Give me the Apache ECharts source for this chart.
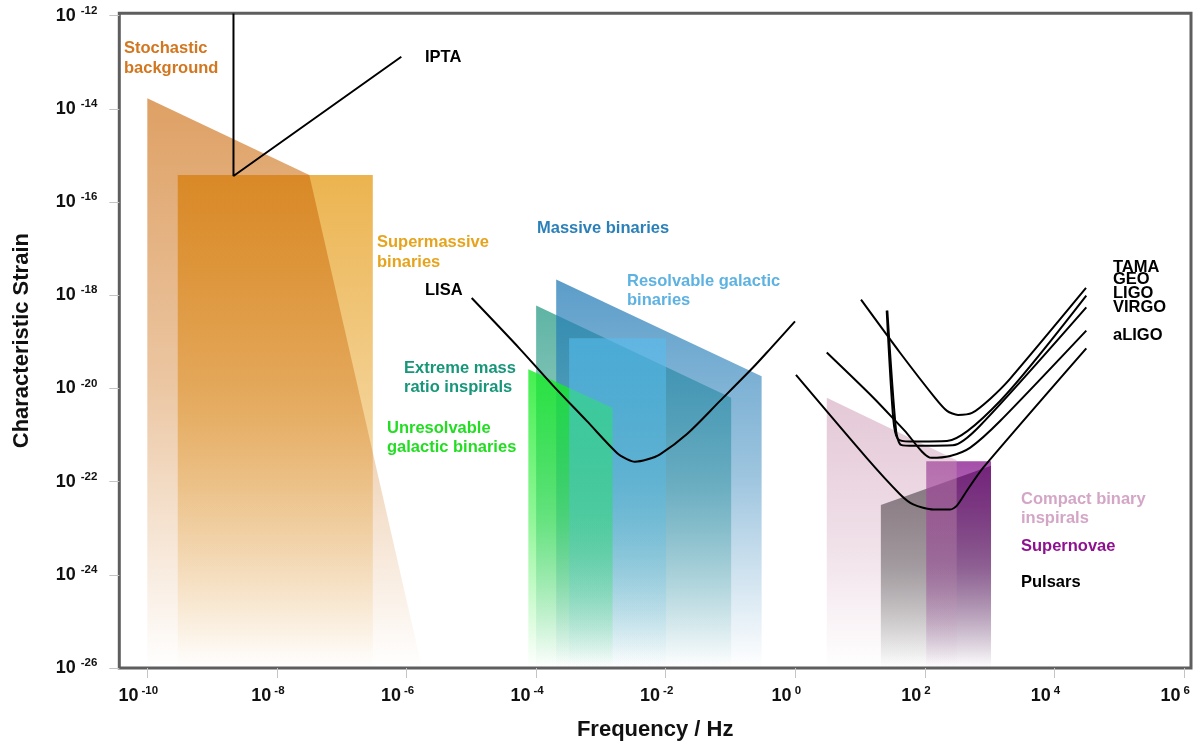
<!DOCTYPE html>
<html><head><meta charset="utf-8">
<script src="https://cdn.jsdelivr.net/npm/echarts@6/dist/echarts.min.js"></script>
<style>html,body{margin:0;padding:0;background:#fff}#chart{width:1195px;height:748px}</style>
</head><body><div id="chart"></div>
<script>
// ---- tick exponents (log10) ----
const xTickExponents = [-10, -8, -6, -4, -2, 0, 2, 4, 6];
const yTickExponents = [-26, -24, -22, -20, -18, -16, -14, -12];

// ---- source regions: upper outline as [log10 f, log10 h]; filled down to the axis floor ----
const stochasticBackground = [[-10.0, -13.77], [-7.5, -15.42], [-5.76, -26]];
const supermassiveBinaries = [[-9.53, -15.42], [-6.52, -15.42]];
const extremeMassRatio     = [[-4.0, -18.22], [-0.99, -20.20]];
const massiveBinaries      = [[-3.69, -17.66], [-0.52, -19.74]];
const unresolvableGalactic = [[-4.12, -19.59], [-2.82, -20.42]];
const resolvableGalactic   = [[-3.49, -18.92], [-1.995, -18.92]];
const pulsars              = [[1.32, -22.50], [3.02, -21.66]];
const supernovae           = [[2.02, -21.56], [3.02, -21.56]];
const compactBinary        = [[0.485, -20.20], [2.49, -21.54]];

// ---- detector sensitivity curves ----
const iptaCurve = [[-8.67, -11.95], [-8.67, -15.44], [-6.08, -12.88]];
const lisaCurve = [[-4.994, -18.06], [-4.248, -19.155], [-3.735, -19.944], [-3.219, -20.697],
  [-2.756, -21.378], [-2.60, -21.515], [-2.474, -21.572], [-2.29, -21.525], [-2.088, -21.413],
  [-1.676, -20.983], [-1.162, -20.267], [-0.653, -19.551], [-0.391, -19.155], [-0.005, -18.561]];
const tamaCurve = [[1.014, -18.095], [1.616, -19.234], [2.156, -20.202], [2.341, -20.482],
  [2.511, -20.568], [2.727, -20.525], [3.005, -20.224], [3.313, -19.794], [4.486, -17.843]];
const geoCurve = [[1.41, -18.33], [1.51, -20.63], [1.58, -21.08], [1.77, -21.14], [2.34, -21.13],
  [3.16, -20.27], [4.49, -18.01]];
const ligoCurve = [[1.42, -18.33], [1.555, -20.91], [1.63, -21.21], [1.85, -21.23], [2.43, -21.22],
  [2.85, -20.80], [4.49, -18.26]];
const virgoCurve = [[0.485, -19.23], [1.205, -20.20], [1.69, -20.91], [2.10, -21.49], [2.39, -21.45],
  [2.70, -21.27], [3.16, -20.70], [4.49, -18.76]];
const aligoCurve = [[0.01, -19.71], [1.10, -21.49], [1.615, -22.27], [1.82, -22.49], [2.13, -22.60],
  [2.39, -22.60], [2.49, -22.52], [2.645, -22.20], [2.90, -21.70], [4.49, -19.14]];

const FONT = 'Liberation Sans, Arial, Helvetica, sans-serif';

function areaSeries(name, data, rgb, alpha) {
  return {
    name, type: 'line', data, showSymbol: false, silent: true,
    lineStyle: { width: 0, opacity: 0 },
    areaStyle: {
      origin: 'start',
      opacity: 1,
      color: {
        type: 'linear', x: 0, y: 0, x2: 0, y2: 1,
        colorStops: [
          { offset: 0, color: 'rgba(' + rgb + ',' + alpha + ')' },
          { offset: 0.5, color: 'rgba(' + rgb + ',' + (alpha * 0.6) + ')' },
          { offset: 1, color: 'rgba(' + rgb + ',0)' }
        ]
      }
    }
  };
}
function curveSeries(name, data, smooth) {
  return {
    name, type: 'line', data, showSymbol: false, silent: true, smooth,
    lineStyle: { color: '#000', width: 2 }
  };
}

const labelRich = {
  b: { fontSize: 18, fontWeight: 'bold', color: '#111', fontFamily: FONT },
  s: { fontSize: 11.5, fontWeight: 'bold', color: '#111', fontFamily: FONT, padding: [0, 0, 10, 5] }
};
const xLabelRich = {
  b: { fontSize: 18, fontWeight: 'bold', color: '#111', fontFamily: FONT },
  s: { fontSize: 11.5, fontWeight: 'bold', color: '#111', fontFamily: FONT, padding: [0, 0, 10, 3] }
};
const fmt = v => '{b|10}{s|' + v + '}';

const textLabels = [
  { t: 'Stochastic\nbackground', x: 124, y: 58, c: '#d2761f', lh: 20 },
  { t: 'IPTA', x: 425, y: 57, c: '#000', lh: 20 },
  { t: 'Supermassive\nbinaries', x: 377, y: 252, c: '#e6a41e', lh: 20 },
  { t: 'LISA', x: 425, y: 290, c: '#000', lh: 20 },
  { t: 'Massive binaries', x: 537, y: 228, c: '#2b80b9', lh: 20 },
  { t: 'Resolvable galactic\nbinaries', x: 627, y: 290.5, c: '#5db2e2', lh: 19 },
  { t: 'Extreme mass\nratio inspirals', x: 404, y: 377.5, c: '#17967a', lh: 19 },
  { t: 'Unresolvable\ngalactic binaries', x: 387, y: 437.5, c: '#22dd22', lh: 19 },
  { t: 'TAMA', x: 1113, y: 267, c: '#000', lh: 14 },
  { t: 'GEO', x: 1113, y: 279.5, c: '#000', lh: 14 },
  { t: 'LIGO', x: 1113, y: 293, c: '#000', lh: 14 },
  { t: 'VIRGO', x: 1113, y: 307, c: '#000', lh: 14 },
  { t: 'aLIGO', x: 1113, y: 335, c: '#000', lh: 14 },
  { t: 'Compact binary\ninspirals', x: 1021, y: 508.5, c: '#d4a6c6', lh: 19 },
  { t: 'Supernovae', x: 1021, y: 546, c: '#8e1290', lh: 19 },
  { t: 'Pulsars', x: 1021, y: 582, c: '#000', lh: 19 }
];

const chart = echarts.init(document.getElementById('chart'), null, { renderer: 'canvas' });
chart.setOption({
  animation: false,
  backgroundColor: '#fff',
  grid: { left: 119.3, right: 4, top: 13.3, bottom: 80, show: true, borderColor: '#5e5e5e', borderWidth: 3,
    backgroundColor: 'transparent', containLabel: false, outerBoundsMode: 'none' },
  xAxis: {
    type: 'value', min: -10.432, max: 6.106,
    axisLine: { show: false, onZero: false }, splitLine: { show: false },
    axisTick: { show: true, customValues: xTickExponents, length: 10, lineStyle: { color: '#c4c4c4' } },
    axisLabel: { customValues: xTickExponents, formatter: fmt, rich: xLabelRich, margin: 17, padding: [0, 18, 0, 0] },
    name: 'Frequency / Hz', nameLocation: 'middle', nameGap: 51,
    nameTextStyle: { fontSize: 22, fontWeight: 'bold', color: '#111', fontFamily: FONT }
  },
  yAxis: {
    type: 'value', min: -26, max: -11.948,
    axisLine: { show: false, onZero: false }, splitLine: { show: false },
    axisTick: { show: true, customValues: yTickExponents, length: 10, lineStyle: { color: '#c4c4c4' } },
    axisLabel: { customValues: yTickExponents, formatter: fmt, rich: labelRich, margin: 22 },
    name: 'Characteristic Strain', nameLocation: 'middle', nameGap: 86,
    nameTextStyle: { fontSize: 22, fontWeight: 'bold', color: '#111', fontFamily: FONT }
  },
  series: [
    areaSeries('Supermassive binaries', supermassiveBinaries, '231,161,36', 0.8),
    areaSeries('Stochastic background', stochasticBackground, '202,102,5', 0.62),
    areaSeries('Extreme mass ratio inspirals', extremeMassRatio, '26,148,125', 0.7),
    areaSeries('Massive binaries', massiveBinaries, '36,124,183', 0.75),
    areaSeries('Unresolvable galactic binaries', unresolvableGalactic, '21,236,36', 0.8),
    areaSeries('Resolvable galactic binaries', resolvableGalactic, '86,189,237', 0.6),
    areaSeries('Pulsars', pulsars, '60,72,66', 0.9),
    areaSeries('Supernovae', supernovae, '132,17,139', 0.74),
    areaSeries('Compact binary inspirals', compactBinary, '204,151,179', 0.53),
    curveSeries('IPTA', iptaCurve, false),
    curveSeries('LISA', lisaCurve, 0.3),
    curveSeries('TAMA', tamaCurve, 0.25),
    curveSeries('GEO', geoCurve, 0.25),
    curveSeries('LIGO', ligoCurve, 0.25),
    curveSeries('VIRGO', virgoCurve, 0.25),
    curveSeries('aLIGO', aligoCurve, 0.25)
  ],
  graphic: textLabels.map(l => ({
    type: 'text', x: l.x, y: l.y, silent: true, z: 100,
    style: { text: l.t, fill: l.c, fontSize: 16.5, fontWeight: 'bold', fontFamily: FONT,
      lineHeight: l.lh, verticalAlign: 'middle', align: 'left' }
  }))
});
</script>
</body></html>
